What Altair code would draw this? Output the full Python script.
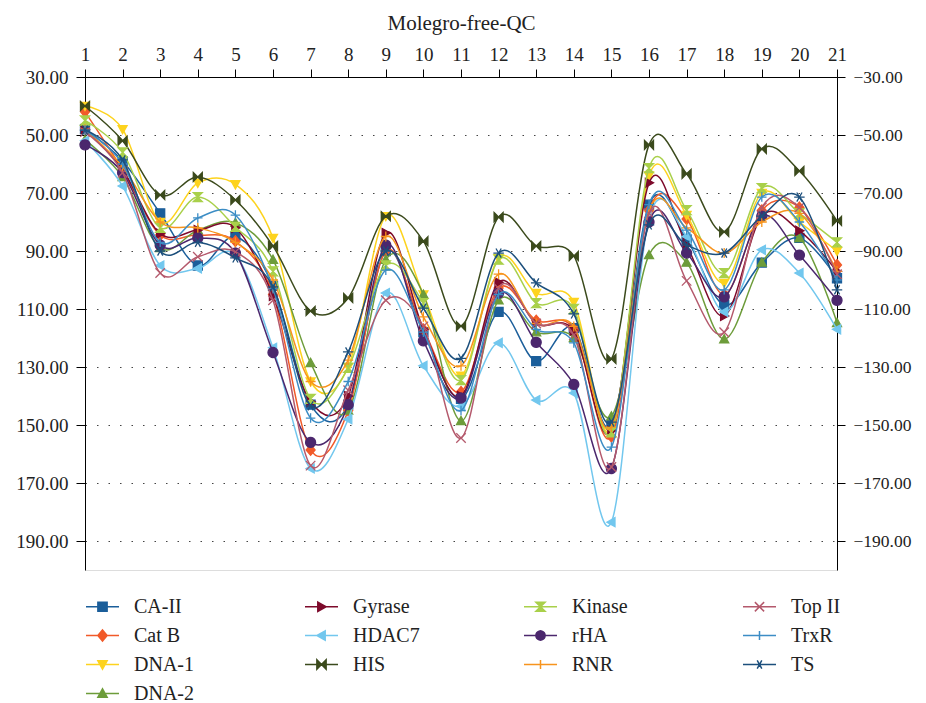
import math
import re
import altair as alt
import pandas as pd

# ---------------- data ----------------
x_values = list(range(1, 22))
series_names = ["CA-II", "Cat B", "DNA-1", "DNA-2", "Gyrase", "HDAC7", "HIS",
                "Kinase", "rHA", "RNR", "Top II", "TrxR", "TS"]

ca_ii  = [48, 59, 77, 95, 85, 102, 143, 143, 90, 118, 141, 111, 128, 116.6, 150, 74, 86, 108.6, 94, 85.5, 99.4]
cat_b  = [42, 62, 84.5, 84.5, 86.6, 105, 158.6, 145, 90, 117, 138.6, 102.8, 114, 117, 154, 76, 79, 105, 76, 75, 94.8]
dna_1  = [40, 48, 80, 66.5, 67, 85.5, 135, 130, 78, 105, 133, 92.5, 104.5, 107.6, 152, 64, 77.6, 101, 70, 80, 90]
dna_2  = [51.7, 64.5, 89, 82.8, 80.3, 93, 128.6, 145, 93, 105, 148.6, 107, 118, 120, 147, 91.4, 94, 120.4, 94, 85.5, 114.8]
gyrase = [48, 62, 84, 82.8, 82, 105.5, 142, 140, 83.8, 117, 140, 100.8, 115, 117.5, 152, 66.5, 88, 112.4, 78, 83, 97]
hdac7  = [52, 67.6, 95, 96, 91.4, 123.4, 165, 148, 104.5, 129.6, 143.5, 121.7, 141.4, 139, 183.5, 79, 85, 111, 89.6, 97.6, 117]
his    = [40, 52, 70.7, 64.5, 72.4, 88.3, 110.7, 106.2, 78, 86.6, 115.9, 78.3, 88.3, 91.7, 127.2, 53.4, 63.4, 83.4, 54.8, 62.4, 79.6]
kinase = [45, 56, 82, 71.4, 81.7, 97, 141, 130.3, 95, 108, 134.5, 93, 108, 110, 152.5, 61.4, 75.9, 97.6, 68.3, 77, 87]
rha    = [53.4, 63, 88, 85.5, 90.7, 125, 156, 143, 88, 121, 140.7, 104.5, 121.5, 136, 165, 80, 90.7, 105.8, 78, 91.4, 107]
rnr    = [48, 61, 80, 82, 87, 100, 135, 127.6, 85, 112.7, 129.6, 98, 115, 116, 150.7, 76, 82, 90.7, 80, 77, 97]
top_ii = [49, 63, 97.6, 92, 90.3, 107, 164, 138, 107, 116, 154.5, 102.8, 115, 119, 164.5, 77, 100.3, 118, 75, 75, 98]
trxr   = [48.3, 60, 87, 78.6, 77.6, 103, 147.6, 135, 96.6, 118, 145, 105, 117, 121.7, 157.6, 74, 82.8, 103.4, 71.4, 80, 100]
ts     = [48.3, 58.6, 90, 87, 92.4, 102.4, 143.4, 124.8, 90, 109.7, 127, 90.7, 101, 111.7, 149, 81, 88, 90.7, 78, 71.4, 103.4]

series_values = [ca_ii, cat_b, dna_1, dna_2, gyrase, hdac7, his, kinase, rha, rnr, top_ii, trxr, ts]
series_colors = ["#1B5E9A", "#F15A29", "#FDD31E", "#6D9C3A", "#7D0A2B", "#72C7EE", "#3B4A1C",
                 "#A9D04A", "#4B276D", "#F7941D", "#B4596C", "#3C8DC5", "#1C4F7C"]
y_ticks = [30, 50, 70, 90, 110, 130, 150, 170, 190]

# legend order (row-major so that the 4-column grid reads column-wise)
legend_order = ["CA-II", "Gyrase", "Kinase", "Top II",
                "Cat B", "HDAC7", "rHA", "TrxR",
                "DNA-1", "HIS", "RNR", "TS",
                "DNA-2"]
legend_key = {n: f"{i:02d}|{n}" for i, n in enumerate(legend_order)}

rows = []
for name, vals in zip(series_names, series_values):
    for x, v in zip(x_values, vals):
        rows.append({"x": x, "y": v, "series": name, "key": legend_key[name]})
df = pd.DataFrame(rows)
color_of = dict(zip(series_names, series_colors))

# ---------------- marker shapes (unit paths) ----------------
circle = "M" + "L".join(
    f"{math.cos(2 * math.pi * i / 20):.3f},{math.sin(2 * math.pi * i / 20):.3f}" for i in range(20)) + "Z"
markers = {
    "CA-II": "M-1,-1L1,-1L1,1L-1,1Z",
    "Cat B": "M0,-1.2L1,0L0,1.2L-1,0Z",
    "DNA-1": "M-1,-0.8L1,-0.8L0,1Z",
    "DNA-2": "M-1,0.8L1,0.8L0,-1Z",
    "Gyrase": "M-0.8,-1L1,0L-0.8,1Z",
    "HDAC7": "M0.8,-1L-1,0L0.8,1Z",
    "HIS": "M-1,-1L0,0L-1,1ZM1,-1L0,0L1,1Z",
    "Kinase": "M-1,-1L1,-1L0,0ZM-1,1L1,1L0,0Z",
    "rHA": circle,
    "RNR": "M-1,0L1,0M0,-1L0,1",
    "Top II": "M-1,-1L1,1M-1,1L1,-1",
    "TrxR": "M-1,0L1,0M0,-1L0,1",
    "TS": "M-1,0L1,0M-0.5,-0.87L0.5,0.87M-0.5,0.87L0.5,-0.87",
}
marker_size = {n: 81 for n in series_names}
marker_size.update({"rHA": 100, "RNR": 100, "TrxR": 90, "Top II": 90, "TS": 110})


def scale_path(p, k):
    return re.sub(r"-?\d+(?:\.\d+)?", lambda m: f"{float(m.group()) * k:.3f}", p)


LEG_SIZE = 1089  # 33 px wide legend symbol
legend_domain = [legend_key[n] for n in legend_order]
legend_paths = ["M-1,0L1,0" + scale_path(markers[n], 0.28) for n in legend_order]
legend_colors = [color_of[n] for n in legend_order]

FONT = "Liberation Serif"
x_scale = alt.Scale(type="point", domain=x_values, padding=0)
y_scale = alt.Scale(domain=[30, 200], reverse=True, nice=False, zero=False)
color_scale = alt.Scale(domain=legend_domain, range=legend_colors)

x_axis = alt.Axis(orient="top", title="Molegro-free-QC", labelAngle=0,
                  grid=False, tickSize=8, labelPadding=5, titlePadding=12,
                  labelFontSize=19, titleFontSize=21, titleFontWeight="normal",
                  domainColor="#000", tickColor="#000", labelColor="#222", titleColor="#222",
                  labelFlush=False, labelOverlap=False,
                  labelFont=FONT, titleFont=FONT)
left_axis = alt.Axis(orient="left", values=y_ticks, format=".2f", title=None,
                     grid=True, gridDash=[1.5, 10], gridColor="#444", gridWidth=1.2,
                     tickSize=9, labelPadding=8, labelFontSize=19, labelFont=FONT,
                     domainColor="#000", tickColor="#000", labelColor="#222",
                     labelFlush=False, labelOverlap=False)
right_axis = alt.Axis(orient="right", values=y_ticks, title=None, grid=False,
                      labelExpr="'\u2212' + format(datum.value, '.2f')",
                      tickSize=8, labelPadding=8, labelFontSize=17.5, labelFont=FONT,
                      domainColor="#000", tickColor="#000", labelColor="#222",
                      labelFlush=False, labelOverlap=False)

layers = []
for i, name in enumerate(series_names):
    c = color_of[name]
    base = alt.Chart(df).transform_filter(alt.datum.series == name)
    xe = alt.X("x:O", scale=x_scale, axis=x_axis)
    if i == 0:
        ye = alt.Y("y:Q", scale=y_scale, axis=left_axis)
    else:
        ye = alt.Y("y:Q", scale=y_scale, axis=None)
    line = base.mark_line(interpolate="cardinal", tension=0, color=c, strokeWidth=1.5).encode(x=xe, y=ye)
    pts = base.mark_point(shape=markers[name], filled=True, fill=c, stroke=c, strokeWidth=1.3,
                          size=marker_size[name], opacity=1).encode(
        x=xe, y=alt.Y("y:Q", scale=y_scale, axis=None))
    layers += [line, pts]

leg = alt.Legend(orient="none", legendX=0, legendY=512, columns=4, direction="horizontal",
                 title=None,
                 symbolSize=LEG_SIZE, symbolStrokeWidth=1.5, symbolOpacity=1,
                 labelFont=FONT, labelFontSize=20, labelColor="#222", labelOffset=14,
                 labelExpr="split(datum.label, '|')[1]",
                 columnPadding=101, rowPadding=1, gridAlign="all", padding=0, labelLimit=300)

legend_layer = alt.Chart(df).transform_filter("false").mark_point(
    filled=True, opacity=1, strokeWidth=1.5).encode(
    x=alt.X("x:O", scale=x_scale, axis=x_axis),
    y=alt.Y("y:Q", scale=y_scale, axis=right_axis),
    shape=alt.Shape("key:N", scale=alt.Scale(domain=legend_domain, range=legend_paths), legend=leg),
    fill=alt.Fill("key:N", scale=color_scale, legend=leg),
    stroke=alt.Stroke("key:N", scale=color_scale, legend=leg),
)

chart = alt.layer(*layers, legend_layer).resolve_axis(y="independent").properties(
    width=752, height=493,
    autosize=alt.AutoSizeParams(type="none"),
    padding={"left": 77, "top": 69, "right": 80, "bottom": 140},
).configure_view(stroke=None).configure(background="white")

chart.save("out.html", embed_options={"renderer": "svg", "actions": False})
